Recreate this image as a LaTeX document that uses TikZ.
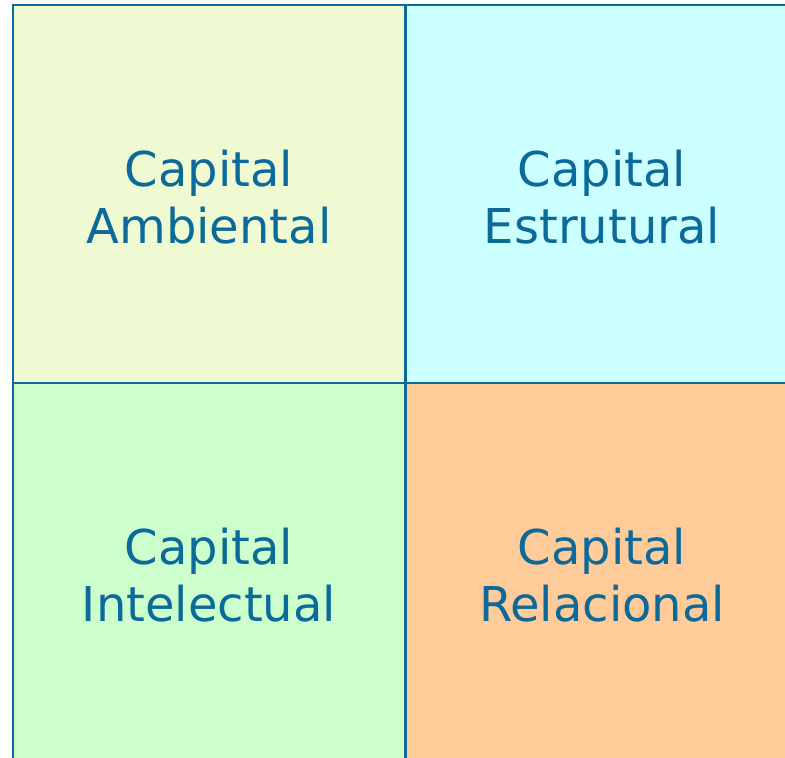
\documentclass[tikz,border=0pt]{standalone}
\usepackage{fontspec}
\setmainfont{DejaVu Sans}
\definecolor{borda}{HTML}{0B6A9A}
\definecolor{ambcor}{HTML}{EFFAD3}
\definecolor{estcor}{HTML}{CCFFFF}
\definecolor{intcor}{HTML}{CCFFCC}
\definecolor{relcor}{HTML}{FFCC99}
\tikzset{rotulo/.style={align=center,text=borda,font=\fontsize{48}{57}\selectfont}}
\begin{document}
\begin{tikzpicture}[x=1pt,y=-1pt]
\useasboundingbox (0,0) rectangle (785,758);
\clip (0,0) rectangle (785,758);
\fill[ambcor] (13,5) rectangle (405.5,383);
\fill[estcor] (405.5,5) rectangle (798,383);
\fill[intcor] (13,383) rectangle (405.5,761);
\fill[relcor] (405.5,383) rectangle (798,761);
\draw[borda,line width=2.8pt] (13,5) rectangle (798,761);
\draw[borda,line width=2.8pt] (405.5,5)--(405.5,761);
\draw[borda,line width=2.8pt] (13,383)--(798,383);
\node[rotulo] (amb) at (209,197) {Capital\\Ambiental};
\node[rotulo] (est) at (602,197) {Capital\\Estrutural};
\node[rotulo] (int) at (209,575) {Capital\\Intelectual};
\node[rotulo] (rel) at (602,575) {Capital\\Relacional};
\end{tikzpicture}
\end{document}
